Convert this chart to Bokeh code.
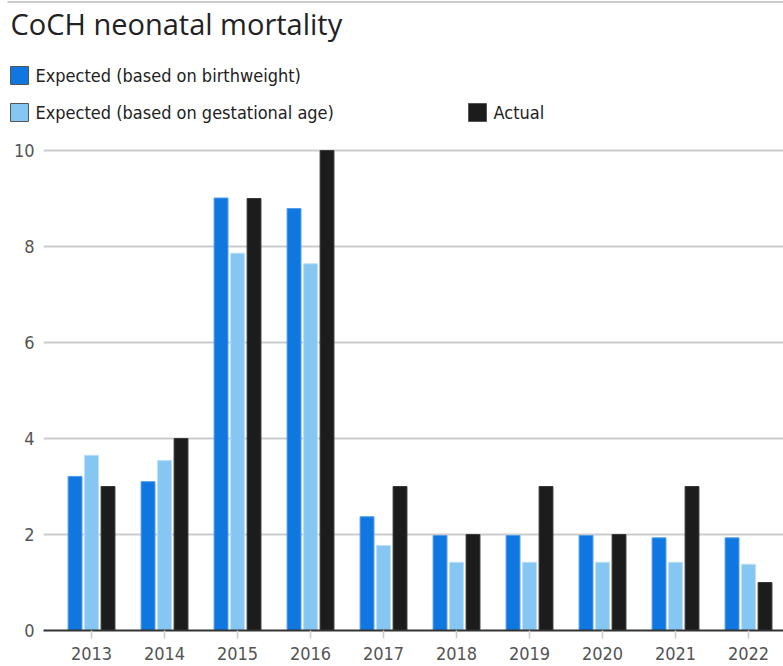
from bokeh.plotting import figure
from bokeh.layouts import column
from bokeh.models import ColumnDataSource, FixedTicker, Range1d, Label
from bokeh.transform import dodge
from bokeh.embed import file_html
from bokeh.resources import INLINE

years = [2013, 2014, 2015, 2016, 2017, 2018, 2019, 2020, 2021, 2022]
expected_birthweight = [3.21, 3.10, 9.01, 8.79, 2.37, 1.98, 1.98, 1.98, 1.93, 1.93]
expected_gestational = [3.65, 3.54, 7.86, 7.64, 1.77, 1.42, 1.42, 1.42, 1.42, 1.38]
actual = [3, 4, 9, 10, 3, 2, 3, 2, 3, 1]
y_ticks = [0, 2, 4, 6, 8, 10]

series_names = ["Expected (based on birthweight)", "Expected (based on gestational age)", "Actual"]
colors = ["#1177E0", "#86C6F3", "#1C1C1C"]
edge_colors = ["#4F9BEA", "#B8DFF8", "#3A3A3A"]

FONT = "DejaVu Sans Condensed, Liberation Sans, sans-serif"
TITLE_FONT = "Open Sans"

W = 783
HEADER_H = 130

# ---------- header: title + legend ----------
h = figure(width=W, height=HEADER_H, output_backend="svg", toolbar_location=None,
           x_range=Range1d(0, W), y_range=Range1d(HEADER_H, 0),
           min_border=0, x_axis_type=None, y_axis_type=None)
h.outline_line_color = None
h.xgrid.grid_line_color = None
h.ygrid.grid_line_color = None
h.frame_align = False

h.line(x=[7, W], y=[1.5, 1.5], line_color="#CCCCCC", line_width=2)
h.add_layout(Label(x=10, y=23, text="CoCH neonatal mortality", text_font=TITLE_FONT,
                   text_font_size="29px", text_color="#222222", text_baseline="middle"))

legend_pos = [(19, 75), (19, 112), (477, 112)]
h.rect(x=[lp[0] for lp in legend_pos], y=[lp[1] for lp in legend_pos], width=18, height=18,
       fill_color=colors, line_color="#555555", line_width=1)
for (lx, ly), name in zip(legend_pos, series_names):
    h.add_layout(Label(x=lx + 16, y=ly, text=name, text_font=FONT, text_font_size="18px",
                       text_color="#222222", text_baseline="middle"))

# ---------- main chart ----------
p = figure(width=W, height=536, output_backend="svg", toolbar_location=None,
           x_range=Range1d(2012.342, 2022.479), y_range=Range1d(0, 10.25),
           min_border_left=43, min_border_right=0, min_border_top=8, min_border_bottom=36)
p.outline_line_color = None
p.frame_align = False

src = ColumnDataSource(dict(year=years, a=expected_birthweight, b=expected_gestational, c=actual))
offsets = [-0.226, 0.0, 0.226]
for field, off, col, ec in zip(["a", "b", "c"], offsets, colors, edge_colors):
    p.vbar(x=dodge("year", off), top=field, bottom=0, width=0.19, source=src,
           fill_color=col, line_color=ec, line_width=1)

p.xaxis.ticker = FixedTicker(ticks=years)
p.xaxis.axis_line_color = "#333333"
p.xaxis.axis_line_width = 2
p.xaxis.major_tick_line_color = "#CCCCCC"
p.xaxis.major_tick_line_width = 1.5
p.xaxis.major_tick_out = 8
p.xaxis.major_tick_in = 0
p.xaxis.minor_tick_line_color = None
p.xaxis.major_label_text_font = FONT
p.xaxis.major_label_text_font_size = "18px"
p.xaxis.major_label_text_color = "#555555"
p.xaxis.major_label_standoff = 8

p.yaxis.ticker = FixedTicker(ticks=y_ticks)
p.yaxis.axis_line_color = None
p.yaxis.major_tick_line_color = None
p.yaxis.major_tick_out = 0
p.yaxis.major_tick_in = 0
p.yaxis.minor_tick_line_color = None
p.yaxis.major_label_text_font = FONT
p.yaxis.major_label_text_font_size = "18px"
p.yaxis.major_label_text_color = "#555555"
p.yaxis.major_label_standoff = 9

p.xgrid.grid_line_color = None
p.ygrid.ticker = FixedTicker(ticks=y_ticks[1:])
p.ygrid.grid_line_color = "#CCCCCC"
p.ygrid.grid_line_width = 2
p.ygrid.level = "underlay"

layout = column(h, p, spacing=0)
open("out.html", "w").write(file_html(layout, INLINE))
